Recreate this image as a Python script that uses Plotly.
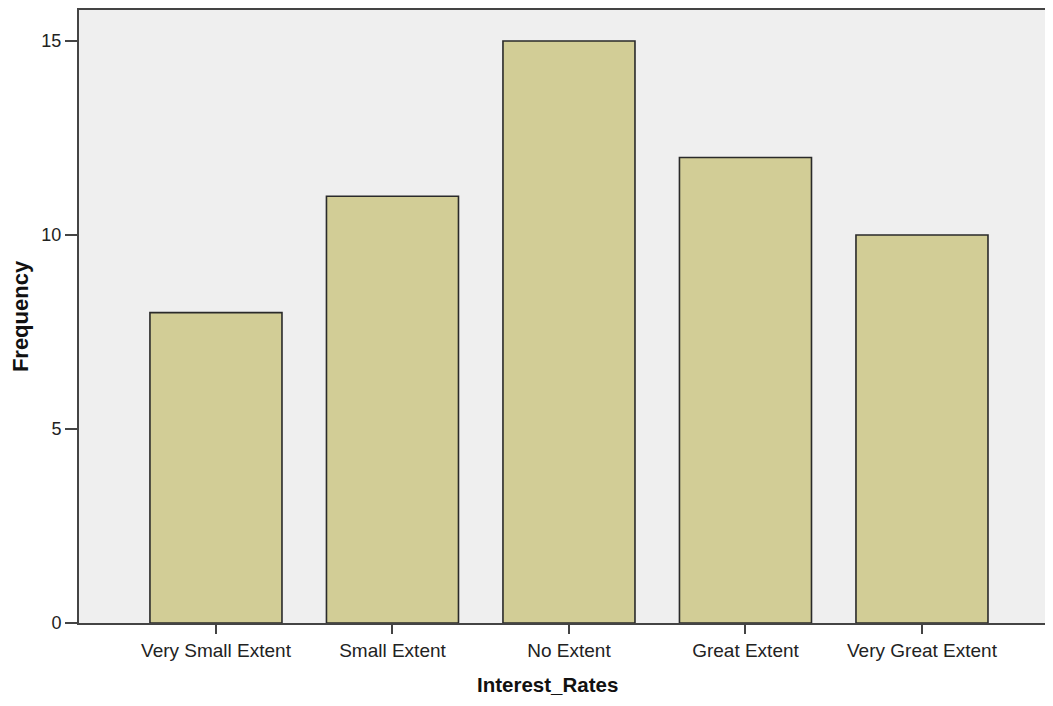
import plotly.graph_objects as go

categories = ["Very Small Extent", "Small Extent", "No Extent", "Great Extent", "Very Great Extent"]
frequency = [8, 11, 15, 12, 10]
y_ticks = [0, 5, 10, 15]

fig = go.Figure(go.Bar(
    x=categories, y=frequency, width=0.748,
    marker=dict(color="#D2CD96", line=dict(color="#2a2a2a", width=1.6)),
))

fig.update_layout(
    width=1037, height=690,
    margin=dict(l=71, r=0, t=2, b=75),
    paper_bgcolor="white", plot_bgcolor="#EFEFEF",
    font=dict(family="Liberation Sans, Arial", size=19, color="#222"),
    showlegend=False,
    annotations=[dict(
        text="<b>Interest_Rates</b>", xref="paper", yref="paper",
        x=0.4855, y=-0.100, xanchor="center", yanchor="middle",
        showarrow=False, font=dict(size=20.5, color="#111"),
    )],
)
fig.update_xaxes(
    range=[-0.776, 4.697], showline=True, linecolor="#444", linewidth=2, mirror=True,
    ticks="outside", ticklen=9, tickcolor="#444", tickwidth=1.5,
    showgrid=False, tickfont=dict(size=19),
)
fig.update_yaxes(
    range=[0, 15.8], tickvals=y_ticks, showline=True, linecolor="#444", linewidth=2,
    ticks="outside", ticklen=12, tickcolor="#444", tickwidth=1.5, showgrid=False, zeroline=False,
    tickfont=dict(size=18),
    title=dict(text="<b>Frequency</b>", font=dict(size=22, color="#111"), standoff=14),
)

fig.write_html("out.html")
